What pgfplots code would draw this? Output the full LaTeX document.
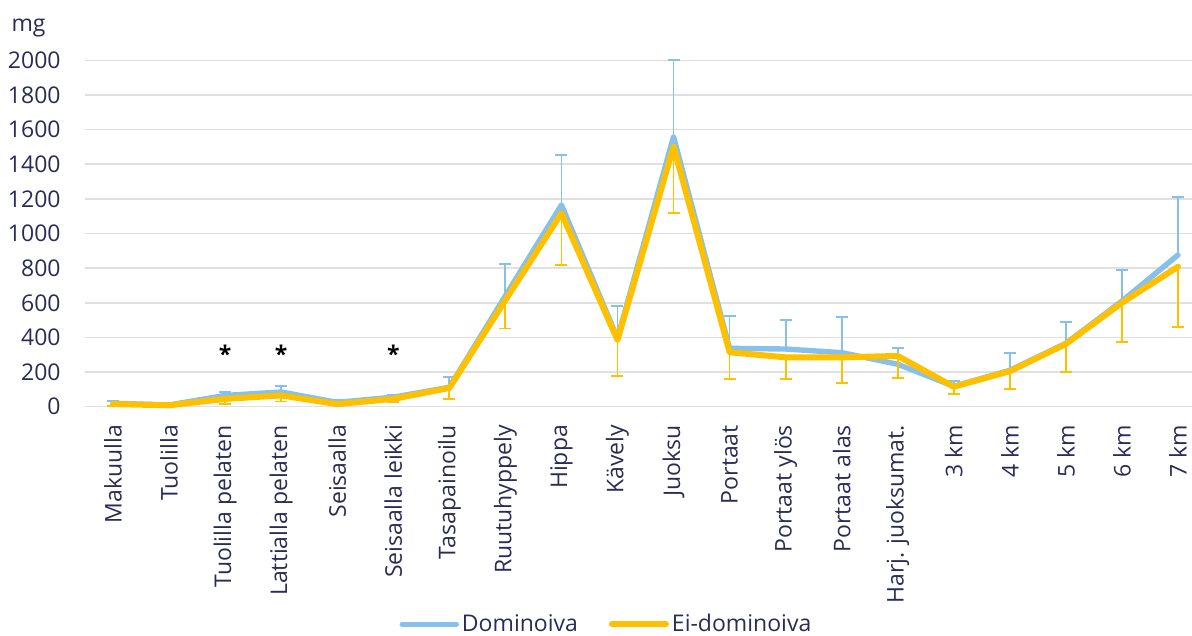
\documentclass[border=0pt]{standalone}
\usepackage{fontspec}
\setmainfont{Open Sans}
\usepackage{pgfplots}
\pgfplotsset{compat=1.18}
\usepackage{pgfplotstable}
\definecolor{dom}{HTML}{85C1EC}
\definecolor{eid}{HTML}{FFC000}
\definecolor{txt}{HTML}{2B2B55}
\definecolor{gridc}{HTML}{E0E0E0}

\pgfplotstableread{
x b bp e em
0 20 12 15 10
1 10 4 8 3
2 65 22 45 30
3 85 35 65 35
4 25 12 15 5
5 55 12 45 18
6 112 60 108 65
7 640 182 615 163
8 1165 288 1117 299
9 395 186 385 206
10 1559 441 1501 384
11 337 188 314 156
12 333 167 285 127
13 312 204 285 150
14 245 96 293 126
15 118 32 115 42
16 210 102 205 105
17 366 125 362 160
18 610 179 600 225
19 876 336 808 350
}\data

\begin{document}
\begin{tikzpicture}[font=\fontsize{11.5pt}{13pt}\selectfont]
\useasboundingbox (0,0) rectangle (596pt,318pt);
\begin{axis}[
  at={(42.5pt,114.65pt)}, anchor=south west,
  scale only axis, width=553.5pt, height=173.2pt,
  xmin=-0.5, xmax=19.25, ymin=0, ymax=2000,
  clip=false,
  axis line style={draw=none},
  tick style={draw=none},
  ytick={0,200,...,2000},
  xtick={0,...,19},
  xticklabels={Makuulla,Tuolilla,Tuolilla pelaten,Lattialla pelaten,Seisaalla,Seisaalla leikki,Tasapainoilu,Ruutuhyppely,Hippa,Kävely,Juoksu,Portaat,Portaat ylös,Portaat alas,Harj. juoksumat.,3 km,4 km,5 km,6 km,7 km},
  ymajorgrids,
  major grid style={draw=gridc, line width=0.75pt},
  /pgf/number format/assume math mode=true,
  /pgf/number format/1000 sep={},
  tick label style={font=\fontsize{11.5pt}{13pt}\selectfont, text=txt},
  yticklabel style={anchor=east, inner xsep=12pt, inner ysep=0pt},
  xticklabel style={rotate=90, anchor=east, inner xsep=9pt, inner ysep=0pt},
  legend style={draw=none, fill=none, legend columns=2, at={(0.4715,-0.628)}, anchor=center,
    font=\fontsize{11.5pt}{13pt}\selectfont, text=txt,
    /tikz/every even column/.append style={column sep=14pt},
    nodes={inner xsep=1.5pt, inner ysep=0pt}},
  legend image code/.code={\draw[#1, line cap=round] (0pt,0pt) -- (27pt,0pt);},
]
\addplot[dom, line width=2.7pt, line join=round, line cap=round,
  error bars/.cd, y dir=plus, y explicit,
  error bar style={line width=0.9pt, dom, line cap=butt},
  error mark options={rotate=90, mark size=3pt, line width=0.9pt, dom}]
  table[x=x, y=b, y error plus=bp] {\data};
\addlegendentry{Dominoiva}
\addplot[eid, line width=3pt, line join=round, line cap=round,
  error bars/.cd, y dir=minus, y explicit,
  error bar style={line width=0.9pt, eid, line cap=butt},
  error mark options={rotate=90, mark size=3pt, line width=0.9pt, eid}]
  table[x=x, y=e, y error minus=em] {\data};
\addlegendentry{Ei-dominoiva}
\node[font=\bfseries\fontsize{11.5pt}{13pt}\selectfont] at (axis cs:2,305) {*};
\node[font=\bfseries\fontsize{11.5pt}{13pt}\selectfont] at (axis cs:3,305) {*};
\node[font=\bfseries\fontsize{11.5pt}{13pt}\selectfont] at (axis cs:5,305) {*};
\node[anchor=base, text=txt, font=\fontsize{11.5pt}{13pt}\selectfont] at (axis description cs:-0.051,1.0826) {mg};
\end{axis}
\end{tikzpicture}
\end{document}
